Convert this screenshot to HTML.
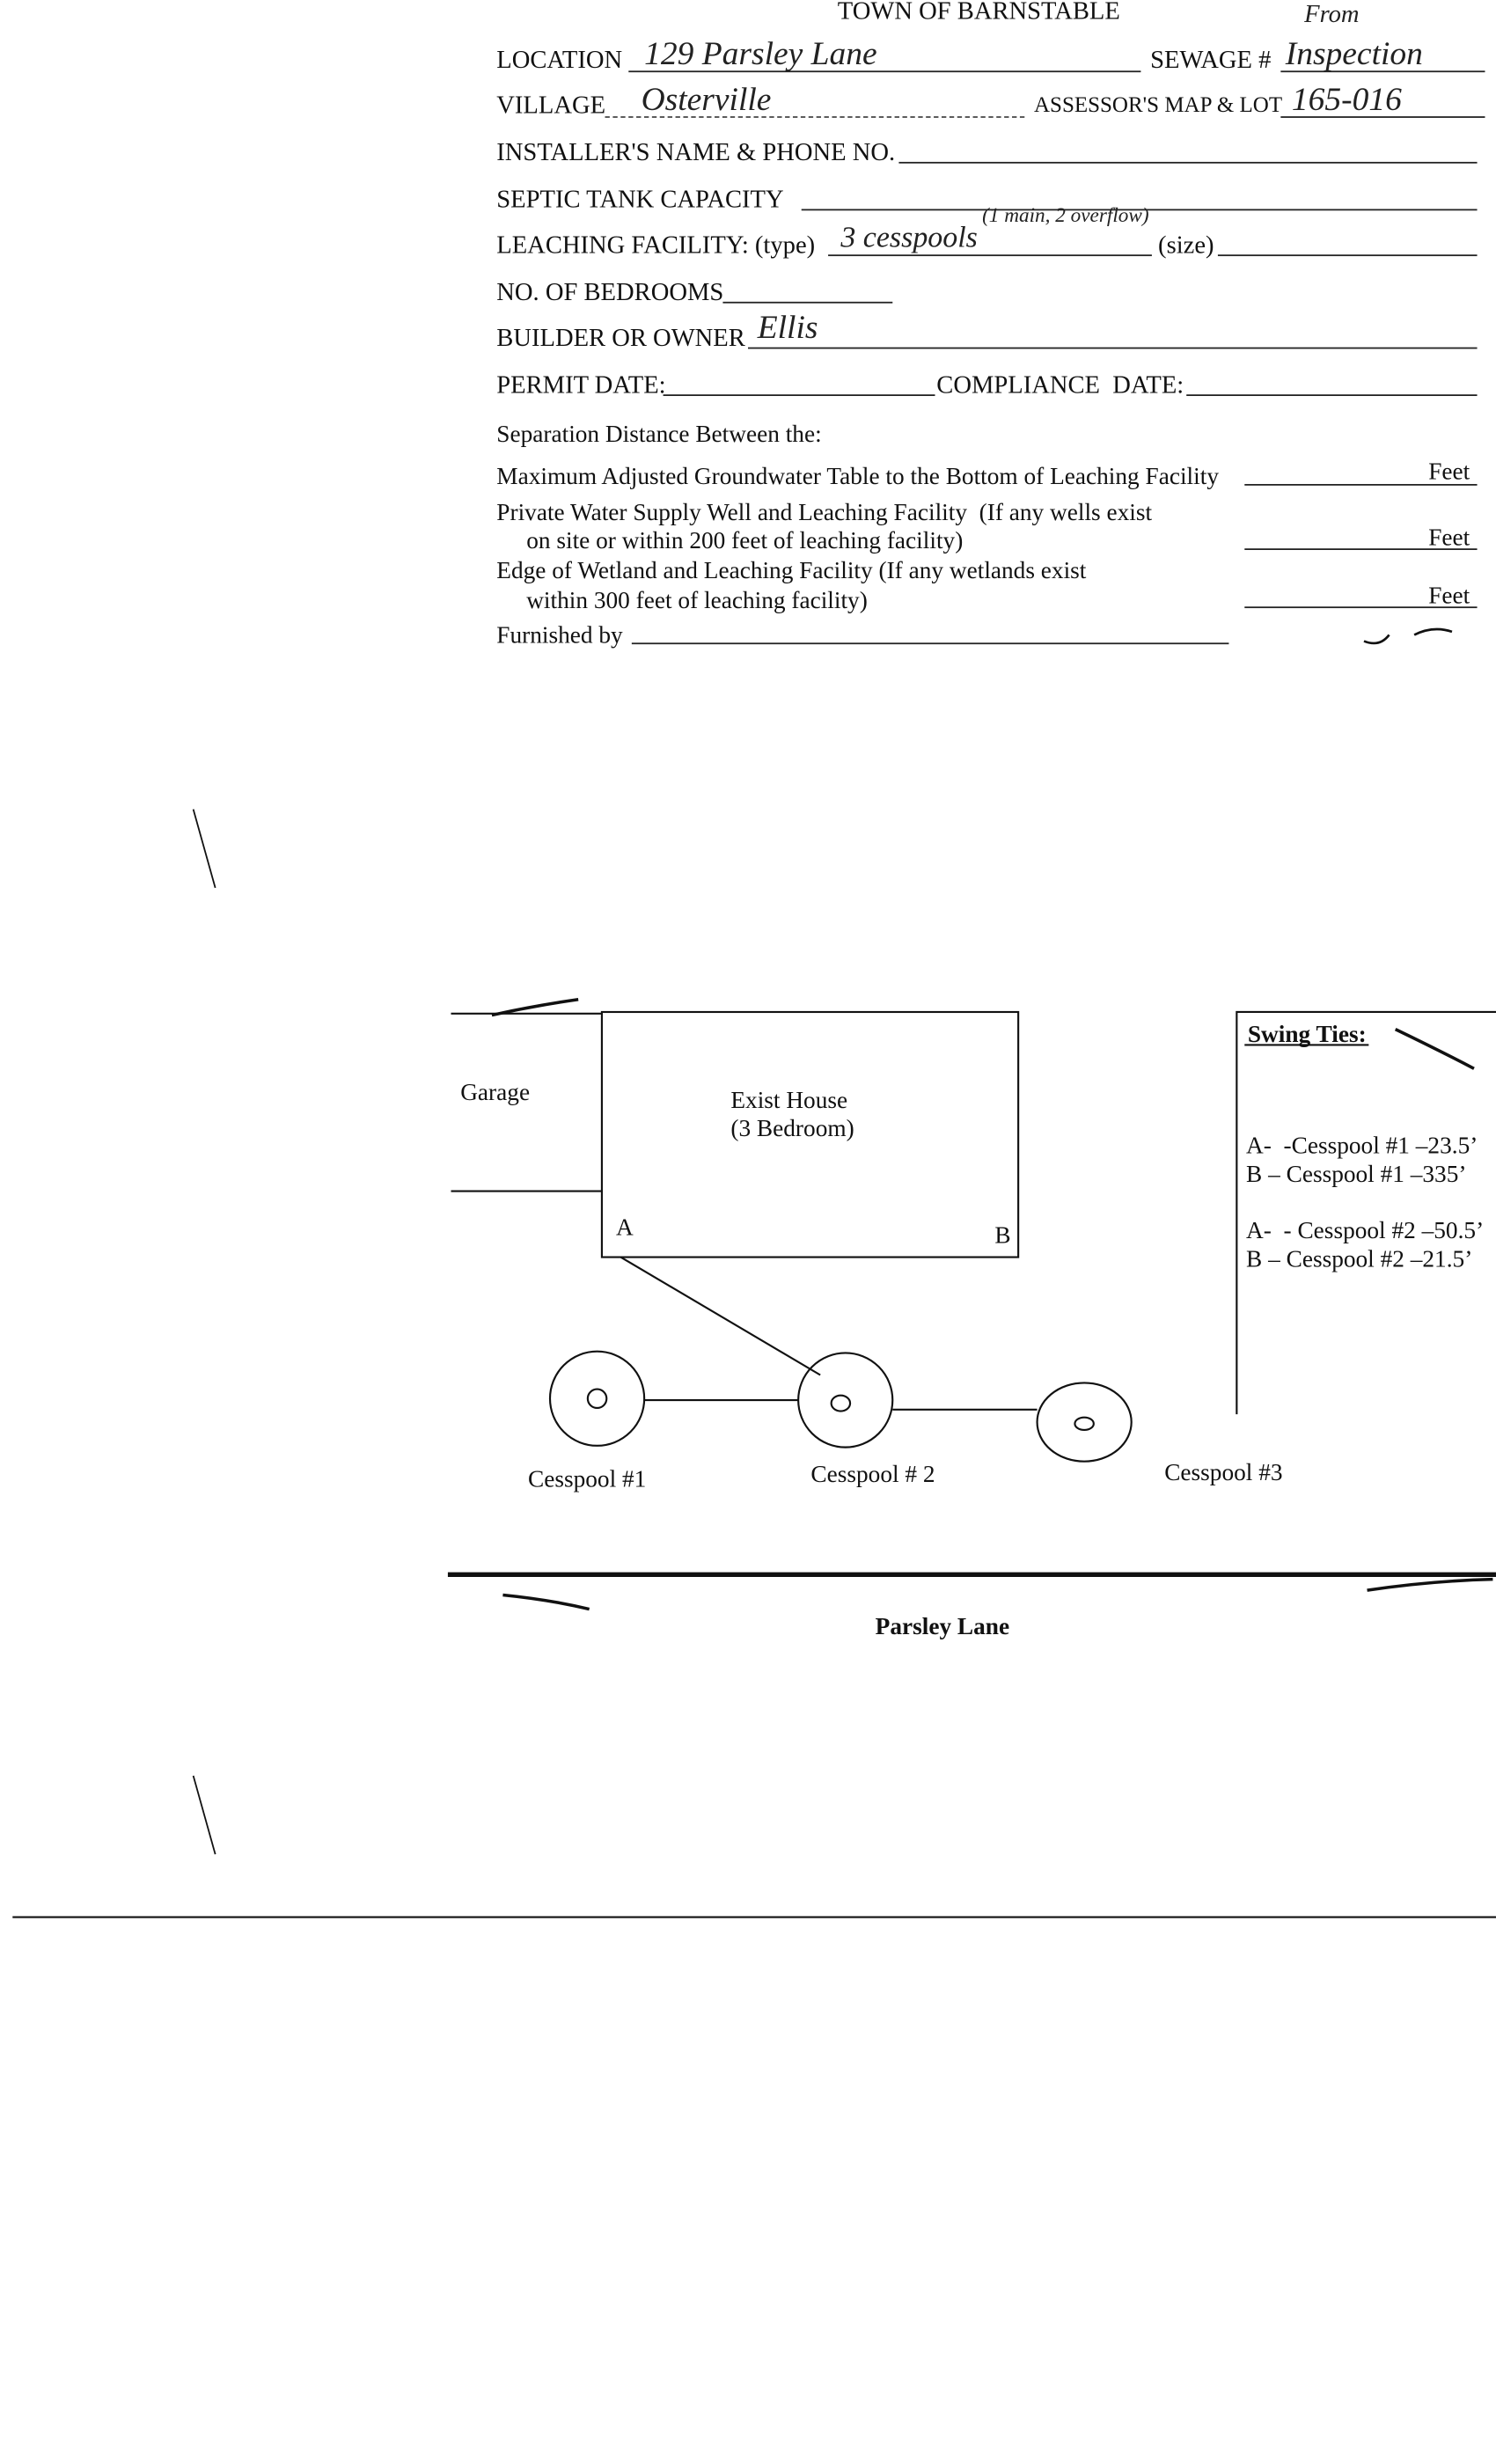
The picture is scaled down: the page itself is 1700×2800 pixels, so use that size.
<!DOCTYPE html>
<html><head><meta charset="utf-8">
<style>
html,body{margin:0;padding:0;background:#fff;}
body{width:1700px;height:2800px;overflow:hidden;position:relative;}
#w{position:absolute;left:0;top:0;width:952px;height:1568px;transform:scale(1.7857);transform-origin:0 0;font-family:"Liberation Serif",serif;color:#111;}
.t{position:absolute;font-size:16px;white-space:nowrap;line-height:1;}
.s{position:absolute;font-size:15.3px;white-space:nowrap;line-height:1;}
.u{position:absolute;height:0;border-top:1px solid #222;}
.h{position:absolute;font-family:"Liberation Serif",serif;font-style:italic;font-size:21px;white-space:nowrap;line-height:1;color:#222;}
</style></head><body><div id="w">
<div class="t" style="left:533px;top:0px">TOWN OF BARNSTABLE</div>
<div class="h" style="left:830px;top:2px;font-size:16px">From</div>

<div class="t" style="left:316px;top:31px">LOCATION</div>
<div class="u" style="left:400px;top:45px;width:326px"></div>
<div class="h" style="left:410px;top:24px">129 Parsley Lane</div>
<div class="t" style="left:732px;top:31px">SEWAGE #</div>
<div class="u" style="left:815px;top:45px;width:130px"></div>
<div class="h" style="left:818px;top:24px">Inspection</div>

<div class="t" style="left:316px;top:60px">VILLAGE</div>
<div class="u" style="left:385px;top:74px;width:267px;border-top:1px dashed #444"></div>
<div class="h" style="left:408px;top:53px">Osterville</div>
<div class="t" style="left:658px;top:61px;font-size:14px">ASSESSOR'S MAP &amp; LOT</div>
<div class="u" style="left:815px;top:74px;width:130px"></div>
<div class="h" style="left:822px;top:53px">165-016</div>

<div class="t" style="left:316px;top:90px">INSTALLER'S NAME &amp; PHONE NO.</div>
<div class="u" style="left:572px;top:103px;width:368px"></div>

<div class="t" style="left:316px;top:120px">SEPTIC TANK CAPACITY</div>
<div class="u" style="left:510px;top:133px;width:430px"></div>
<div class="h" style="left:625px;top:130px;font-size:13px">(1 main, 2 overflow)</div>

<div class="t" style="left:316px;top:149px">LEACHING FACILITY: (type)</div>
<div class="u" style="left:527px;top:162px;width:206px"></div>
<div class="h" style="left:535px;top:142px;font-size:19px">3 cesspools</div>
<div class="t" style="left:737px;top:149px">(size)</div>
<div class="u" style="left:775px;top:162px;width:165px"></div>

<div class="t" style="left:316px;top:179px">NO. OF BEDROOMS</div>
<div class="u" style="left:460px;top:192px;width:108px"></div>

<div class="t" style="left:316px;top:208px">BUILDER OR OWNER</div>
<div class="u" style="left:476px;top:221px;width:464px"></div>
<div class="h" style="left:482px;top:198px">Ellis</div>

<div class="t" style="left:316px;top:238px">PERMIT DATE:</div>
<div class="u" style="left:422px;top:251px;width:173px"></div>
<div class="t" style="left:596px;top:238px">COMPLIANCE &nbsp;DATE:</div>
<div class="u" style="left:755px;top:251px;width:185px"></div>

<div class="s" style="left:316px;top:269px">Separation Distance Between the:</div>
<div class="s" style="left:316px;top:296px">Maximum Adjusted Groundwater Table to the Bottom of Leaching Facility</div>
<div class="u" style="left:792px;top:308px;width:148px"></div>
<div class="s" style="left:909px;top:293px">Feet</div>
<div class="s" style="left:316px;top:319px">Private Water Supply Well and Leaching Facility &nbsp;(If any wells exist</div>
<div class="s" style="left:335px;top:337px">on site or within 200 feet of leaching facility)</div>
<div class="u" style="left:792px;top:349px;width:148px"></div>
<div class="s" style="left:909px;top:335px">Feet</div>
<div class="s" style="left:316px;top:356px">Edge of Wetland and Leaching Facility (If any wetlands exist</div>
<div class="s" style="left:335px;top:375px">within 300 feet of leaching facility)</div>
<div class="u" style="left:792px;top:386px;width:148px"></div>
<div class="s" style="left:909px;top:372px">Feet</div>
<div class="s" style="left:316px;top:397px">Furnished by</div>
<div class="u" style="left:402px;top:409px;width:380px"></div>

<svg style="position:absolute;left:0;top:0" width="952" height="1568">
<g stroke="#111" fill="none" stroke-width="1.2">
<line x1="287" y1="645" x2="383" y2="645"/>
<path d="M313 646 Q340 640 368 636" stroke-width="2"/>
<line x1="287" y1="758" x2="383" y2="758"/>
<rect x="383" y="644" width="265" height="156"/>
<line x1="395" y1="800" x2="522" y2="875"/>
<circle cx="380" cy="890" r="30"/><circle cx="380" cy="890" r="6"/>
<circle cx="538" cy="891" r="30"/><ellipse cx="535" cy="893" rx="6" ry="5"/>
<ellipse cx="690" cy="905" rx="30" ry="25"/><ellipse cx="690" cy="906" rx="6" ry="4"/>
<line x1="410" y1="891" x2="508" y2="891"/>
<line x1="568" y1="897" x2="660" y2="897"/>
<path d="M787 900 L787 644 L952 644"/>
<line x1="792" y1="665" x2="871" y2="665"/>
<path d="M888 655 Q915 668 938 680" stroke-width="2"/>
<line x1="285" y1="1002" x2="952" y2="1002" stroke-width="3"/>
<path d="M320 1015 Q350 1018 375 1024" stroke-width="2"/>
<path d="M870 1012 Q910 1006 950 1005" stroke-width="2"/>
<line x1="8" y1="1220" x2="952" y2="1220"/>
<path d="M123 515 L137 565" stroke-width="1"/>
<path d="M123 1130 L137 1180" stroke-width="1"/>
<path d="M868 408 Q878 412 884 404 M900 404 Q912 398 924 402" stroke-width="1.5"/>
</g>
</svg>
<div class="s" style="left:293px;top:688px">Garage</div>
<div class="s" style="left:465px;top:693px">Exist House</div>
<div class="s" style="left:465px;top:711px">(3 Bedroom)</div>
<div class="s" style="left:392px;top:774px">A</div>
<div class="s" style="left:633px;top:779px">B</div>
<div class="s" style="left:336px;top:934px">Cesspool #1</div>
<div class="s" style="left:516px;top:931px">Cesspool # 2</div>
<div class="s" style="left:741px;top:930px">Cesspool #3</div>
<div class="s" style="left:794px;top:651px;font-weight:bold">Swing Ties:</div>
<div class="s" style="left:793px;top:722px">A- &nbsp;-Cesspool #1 –23.5’</div>
<div class="s" style="left:793px;top:740px">B – Cesspool #1 –335’</div>
<div class="s" style="left:793px;top:776px">A- &nbsp;- Cesspool #2 –50.5’</div>
<div class="s" style="left:793px;top:794px">B – Cesspool #2 –21.5’</div>
<div class="s" style="left:557px;top:1028px;font-weight:bold">Parsley Lane</div>
</div></body></html>
